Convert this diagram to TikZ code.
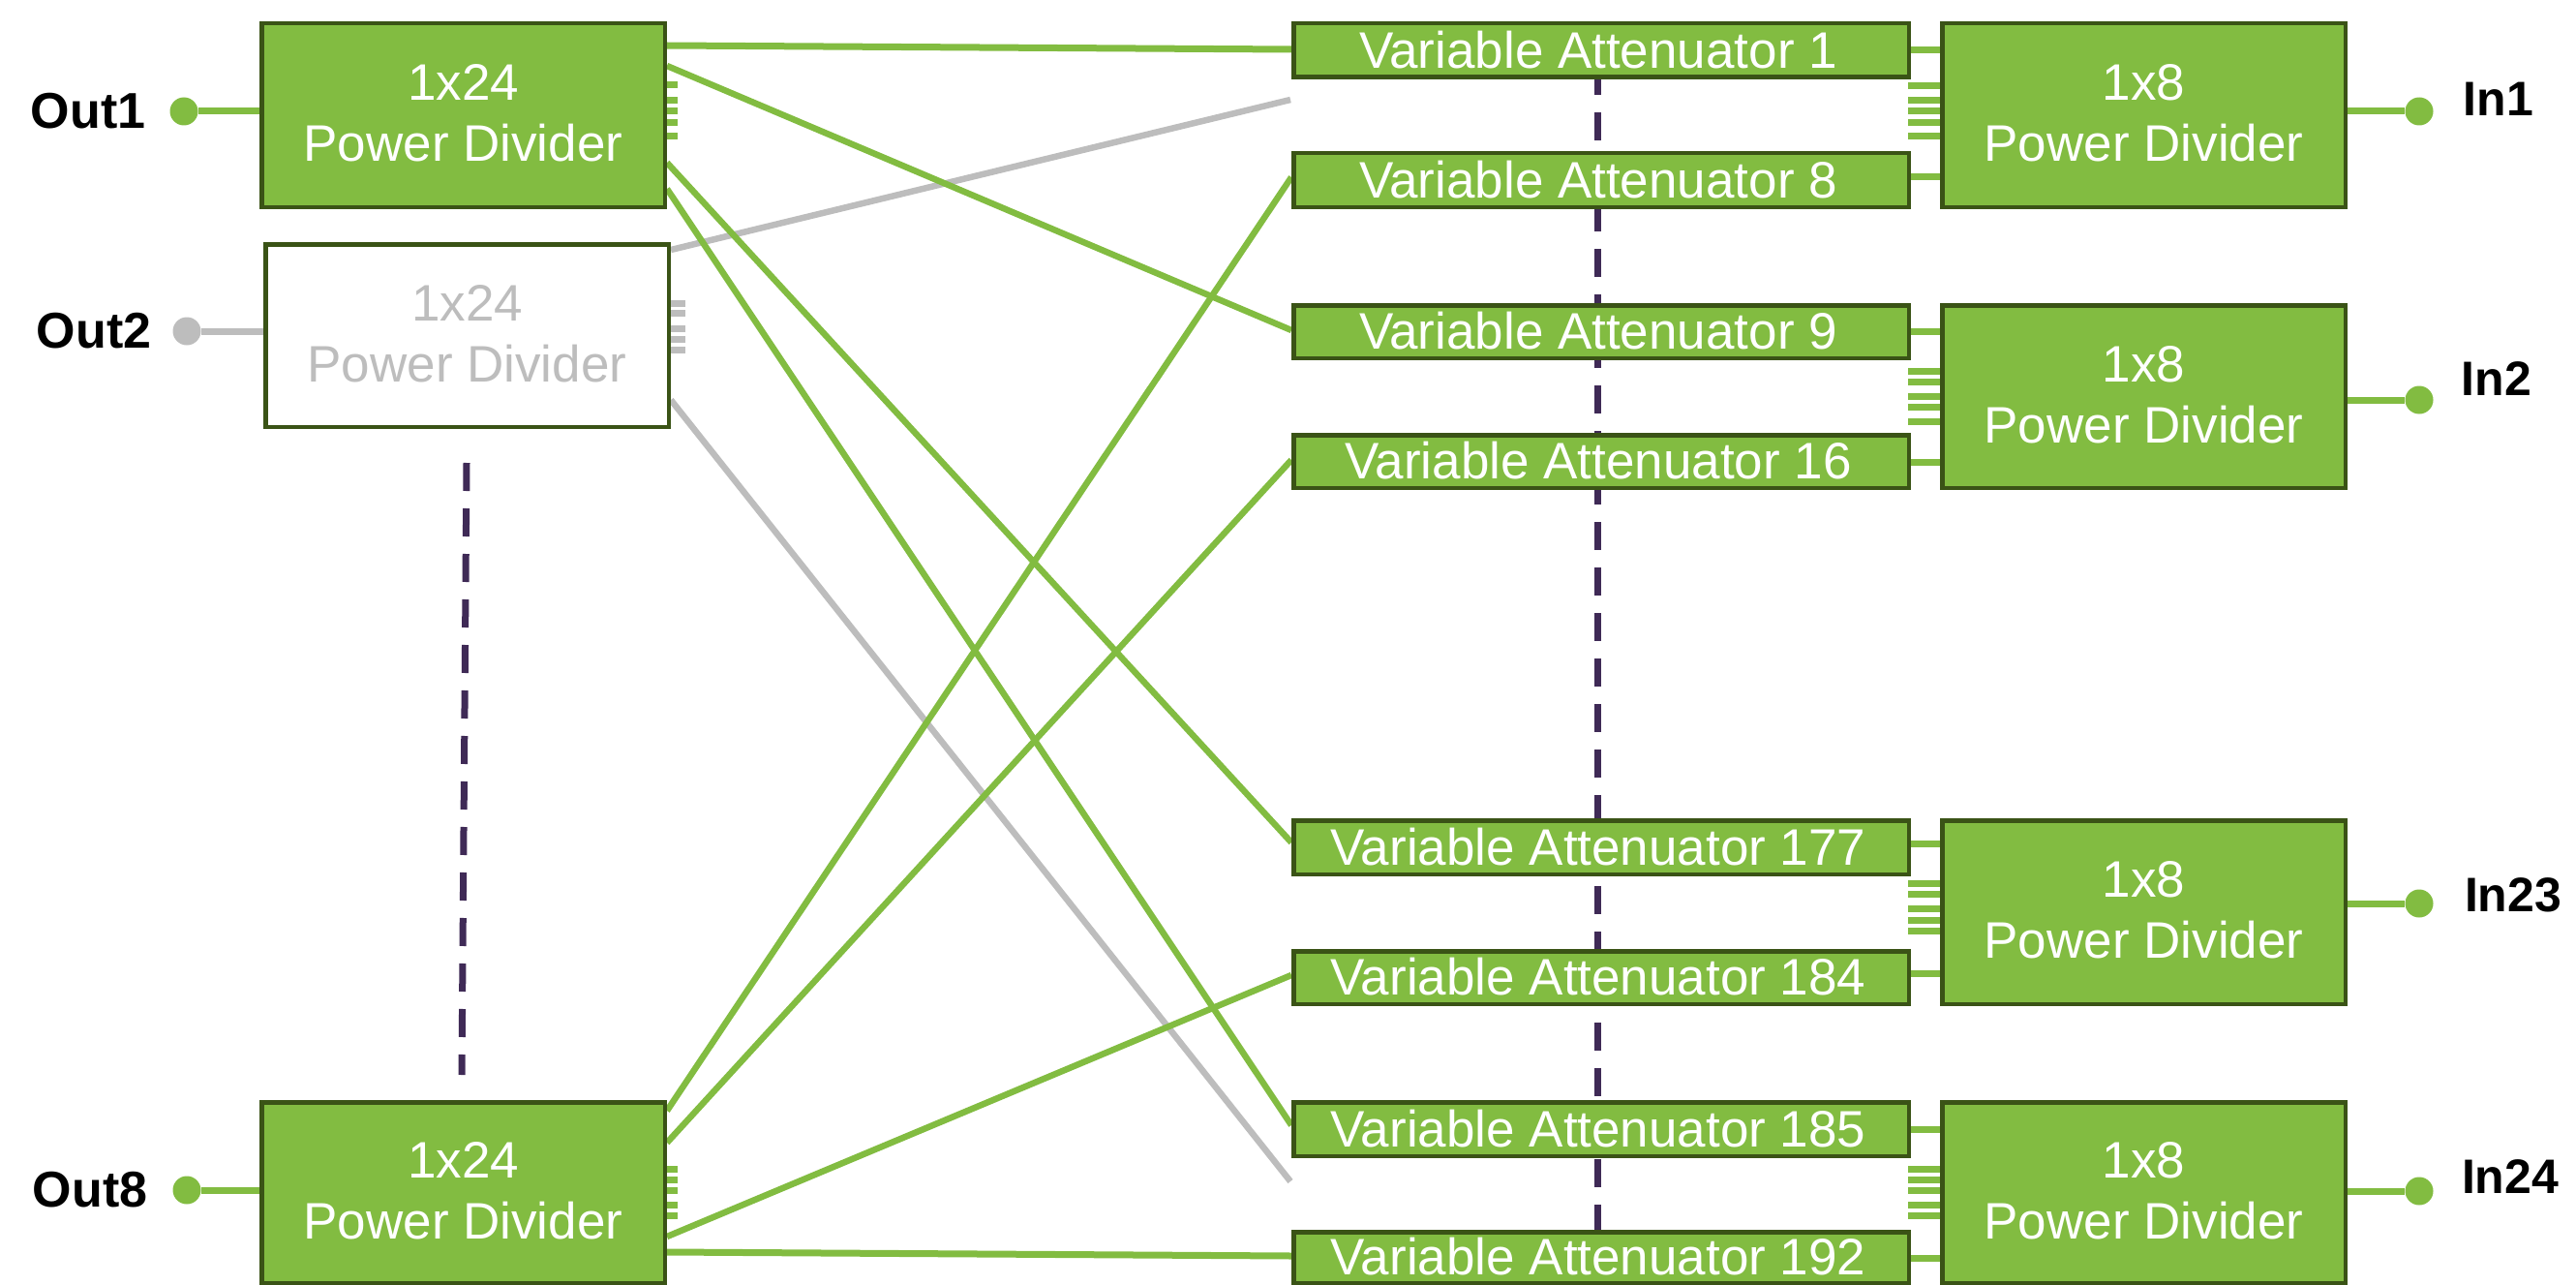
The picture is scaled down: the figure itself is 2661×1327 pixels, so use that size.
\documentclass[tikz,border=0pt]{standalone}
\usepackage{fontspec}
\setmainfont{Liberation Sans}
\usetikzlibrary{backgrounds}
\definecolor{gfill}{HTML}{82BC41}
\definecolor{gedge}{HTML}{3A5316}
\definecolor{gline}{HTML}{82BC41}
\definecolor{gray1}{HTML}{BDBDBD}
\definecolor{purp}{HTML}{3F2A56}
\tikzset{
  base/.style={draw=gedge,line width=4.5pt,inner sep=0pt,text=white,align=center,font=\fontsize{53}{63}\selectfont},
  divider/.style={base,fill=gfill,minimum width=416.5pt},
  dividerg/.style={base,fill=white,text=gray1,minimum width=416.5pt},
  atten/.style={base,fill=gfill,minimum width=635.5pt},
  tag/.style={font=\fontsize{50}{55}\bfseries\selectfont,text=black,inner sep=0pt},
  tagout/.style={tag,font=\fontsize{52}{55}\bfseries\selectfont},
  dot/.style={circle,fill=gline,inner sep=0pt,minimum size=29pt},
  dotg/.style={circle,fill=gray1,inner sep=0pt,minimum size=29pt},
  wire/.style={draw=gline,line width=6.5pt},
  wireg/.style={draw=gray1,line width=6.5pt},
  thick wire/.style={draw=gline,line width=7pt},
  thick wireg/.style={draw=gray1,line width=7pt},
  skip/.style={draw=purp,line width=7pt,dash pattern=on 29pt off 18pt},
}
\newcommand{\pdtext}[1]{#1\\Power Divider\rule[-5pt]{0pt}{5pt}}
\newcommand{\vatext}[1]{Variable Attenuator #1\kern6pt\rule[-2pt]{0pt}{2pt}}
\begin{document}
\begin{tikzpicture}[x=1pt,y=-1pt]
\useasboundingbox (0,0) rectangle (2661,1327);
% dividers on the output side
\node[divider,minimum height=189.5pt] (o1) at (478.5,119) {\pdtext{1x24}};
\node[dividerg,minimum height=188.5pt] (o2) at (482.5,346.5) {\pdtext{1x24}};
\node[divider,minimum height=186.5pt] (o8) at (478.5,1231.5) {\pdtext{1x24}};
% attenuators
\foreach \nm/\txt/\cy/\h in {a1/1/52/55.5,a8/8/186/55.5,a9/9/342.5/54.5,a16/16/476.5/54.5,a177/177/875/55.5,a184/184/1009.5/54.5,a185/185/1166/55.5,a192/192/1298.5/52.5}
  \node[atten,minimum height=\h pt] (\nm) at (1654,\cy) {\vatext{\txt}};
% dividers on the input side
\node[divider,minimum height=189.5pt] (r1) at (2214.5,119) {\pdtext{1x8}};
\node[divider,minimum height=188.5pt] (r2) at (2214.5,409.5) {\pdtext{1x8}};
\node[divider,minimum height=189.5pt] (r23) at (2214.5,942) {\pdtext{1x8}};
\node[divider,minimum height=186.5pt] (r24) at (2214.5,1231.5) {\pdtext{1x8}};
% terminals
\node[dot] (d1) at (190,115) {};
\node[dotg] (d2) at (193,342) {};
\node[dot] (d8) at (193,1229) {};
\node[dot] (i1) at (2499,115) {};
\node[dot] (i2) at (2499,413) {};
\node[dot] (i23) at (2499,933) {};
\node[dot] (i24) at (2499,1230) {};
\node[tagout] (t1) at (91,115) {Out1};
\node[tagout] (t2) at (97,342) {Out2};
\node[tagout] (t8) at (93,1229) {Out8};
\node[tag] (u1) at (2581,102.5) {In1};
\node[tag] (u2) at (2579,391) {In2};
\node[tag] (u23) at (2596,924) {In23};
\node[tag] (u24) at (2593,1215) {In24};
\coordinate (gtop) at (1333,103);
\coordinate (gbot) at (1333,1220);
\coordinate (ld1) at (482,478);
\coordinate (ld2) at (477,1110);
\coordinate (md1) at (1650.5,22);
\coordinate (md2) at (1650.5,1300);
\begin{scope}[on background layer]
  \draw[skip] (md1) -- (md2);
  \draw[skip] (ld1) -- (ld2);
  \draw[wireg] (o2.east |- 0,258) -- (gtop);
  \draw[wireg] (o2.east |- 0,413) -- (gbot);
  \draw[thick wire] (o1.east |- 0,47) -- (a1.west |- 0,51);
  \draw[wire] (o1.east |- 0,68) -- (a9.west |- 0,341);
  \draw[wire] (o1.east |- 0,168) -- (a177.west |- 0,870);
  \draw[wire] (o1.east |- 0,195) -- (a185.west |- 0,1162);
  \draw[wire] (o8.east |- 0,1147) -- (a8.west |- 0,183);
  \draw[wire] (o8.east |- 0,1180) -- (a16.west |- 0,475);
  \draw[wire] (o8.east |- 0,1277) -- (a184.west |- 0,1007);
  \draw[thick wire] (o8.east |- 0,1293) -- (a192.west |- 0,1297);
  % stubs to the terminals
  \draw[thick wire] (d1) -- (o1.west |- d1);
  \draw[thick wireg] (d2) -- (o2.west |- d2);
  \draw[thick wire] (d8) -- (o8.west |- d8);
  \draw[thick wire] (r1.east |- i1) -- (i1);
  \draw[thick wire] (r2.east |- i2) -- (i2);
  \draw[thick wire] (r23.east |- i23) -- (i23);
  \draw[thick wire] (r24.east |- i24) -- (i24);
  % attenuator to divider
  \draw[thick wire] (a1.east |- 0,52) -- (r1.west |- 0,52);
  \draw[thick wire] (a8.east |- 0,182) -- (r1.west |- 0,182);
  \draw[thick wire] (a9.east |- 0,342) -- (r2.west |- 0,342);
  \draw[thick wire] (a16.east |- 0,477) -- (r2.west |- 0,477);
  \draw[thick wire] (a177.east |- 0,871) -- (r23.west |- 0,871);
  \draw[thick wire] (a184.east |- 0,1005) -- (r23.west |- 0,1005);
  \draw[thick wire] (a185.east |- 0,1166) -- (r24.west |- 0,1166);
  \draw[thick wire] (a192.east |- 0,1299) -- (r24.west |- 0,1299);
\end{scope}
% comb marks
\foreach \y in {88,104,115,127,141} \draw[thick wire] (o1.east |- 0,\y) -- ++(11,0);
\foreach \y in {313,323,339,350,361} \draw[thick wireg] (o2.east |- 0,\y) -- ++(15,0);
\foreach \y in {1207,1218,1229,1244,1255} \draw[thick wire] (o8.east |- 0,\y) -- ++(11,0);
\foreach \y in {89,104,115,127,141} \draw[thick wire] (r1.west |- 0,\y) -- ++(-33,0);
\foreach \y in {383,394,409,420,435} \draw[thick wire] (r2.west |- 0,\y) -- ++(-33,0);
\foreach \y in {912,923,938,950,961} \draw[thick wire] (r23.west |- 0,\y) -- ++(-33,0);
\foreach \y in {1207,1218,1229,1244,1255} \draw[thick wire] (r24.west |- 0,\y) -- ++(-33,0);
\end{tikzpicture}
\end{document}
